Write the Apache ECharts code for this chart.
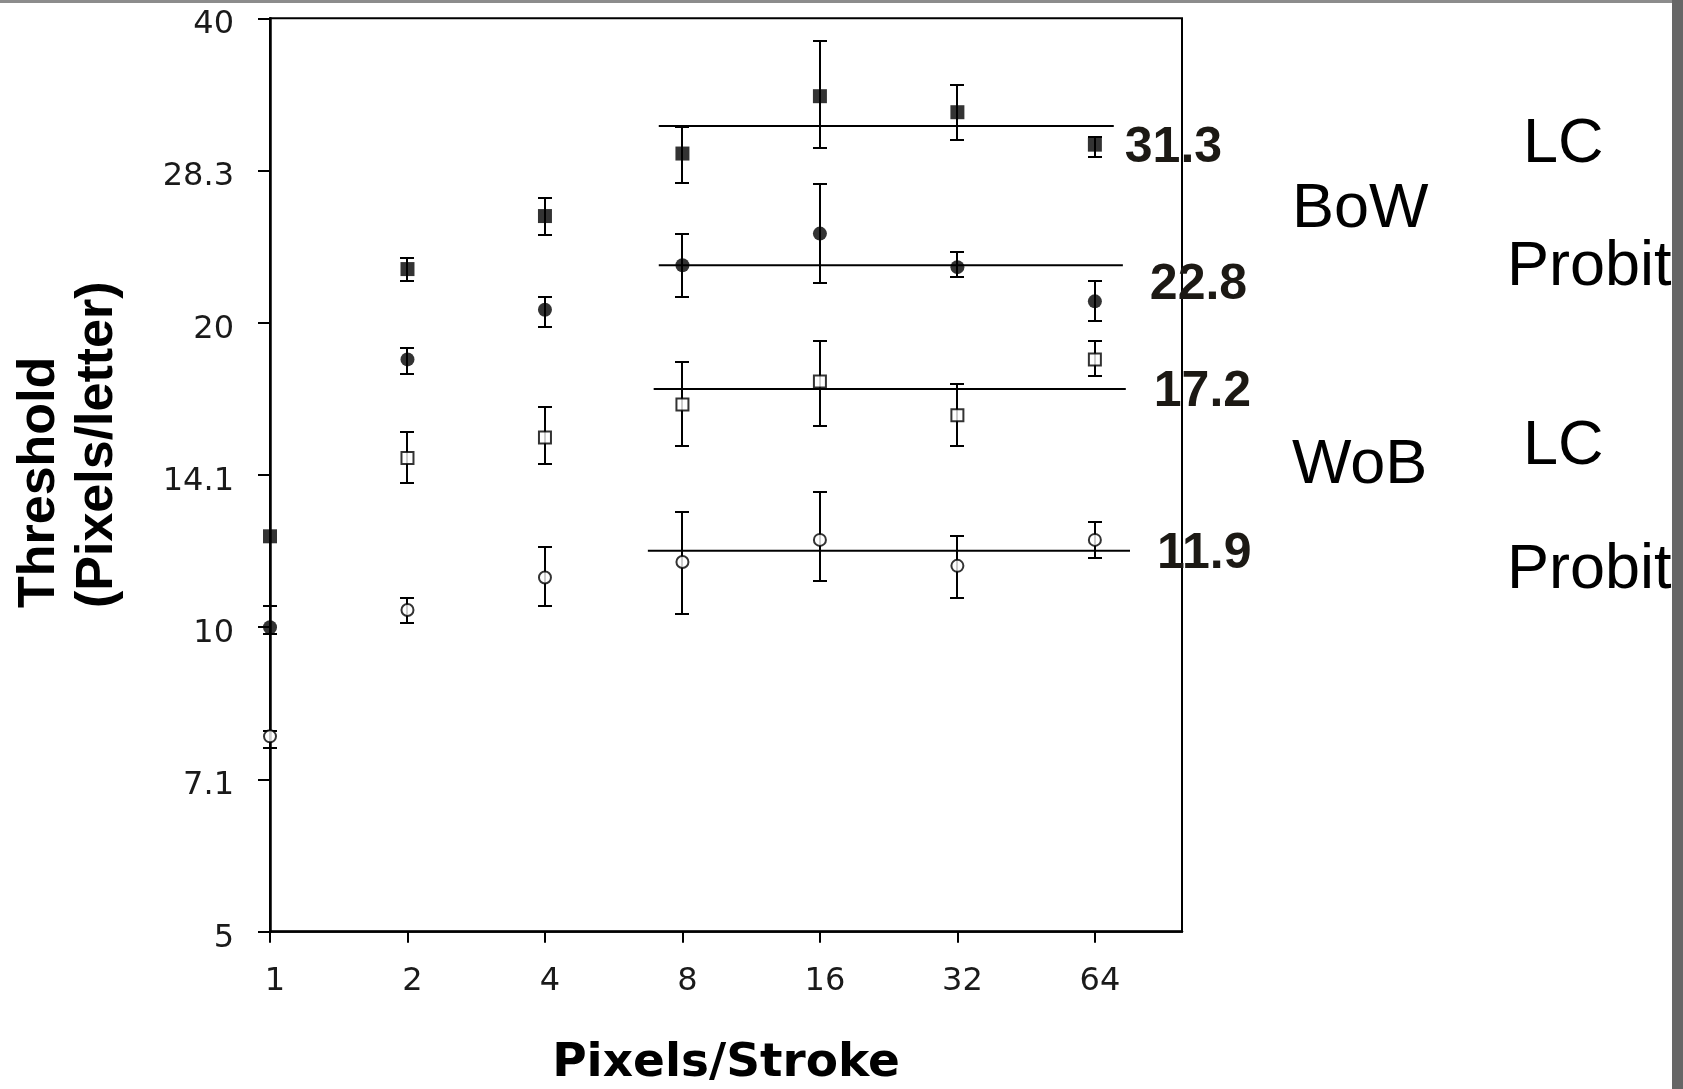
<!DOCTYPE html>
<html>
<head>
<meta charset="utf-8">
<title>Threshold vs Pixels/Stroke</title>
<script src="https://cdn.jsdelivr.net/npm/echarts@6/dist/echarts.min.js"></script>
<style>
  html, body { margin: 0; padding: 0; background: #fff; }
  #chart { width: 1683px; height: 1089px; }
</style>
</head>
<body>
<div id="chart"></div>
<script>
// Stroke widths (x) and tick values
const strokeWidths = [1, 2, 4, 8, 16, 32, 64];
const xTickValues = [1, 2, 4, 8, 16, 32, 64];
const yTickValues = [5, 7.071, 10, 14.142, 20, 28.284, 40];

// Black-on-white, letter-contrast fit (filled squares)
const bowLC      = [12.3, 22.6, 25.5, 29.4, 33.5, 32.3, 30.0];
const bowLCLow   = [null, 22.0, 24.4, 27.5, 29.8, 30.3, 29.2];
const bowLCHigh  = [null, 23.2, 26.6, 31.2, 38.0, 34.4, 30.5];

// Black-on-white, probit fit (filled circles)
const bowProbit      = [10.0, 18.4, 20.6, 22.8, 24.5, 22.7, 21.0];
const bowProbitLow   = [9.85, 17.8, 19.8, 21.2, 21.9, 22.2, 20.1];
const bowProbitHigh  = [10.5, 18.9, 21.2, 24.5, 27.4, 23.5, 22.0];

// White-on-black, letter-contrast fit (open squares)
const wobLC      = [null, 14.7, 15.4, 16.6, 17.5, 16.2, 18.4];
const wobLCLow   = [null, 13.9, 14.5, 15.1, 15.8, 15.1, 17.7];
const wobLCHigh  = [null, 15.6, 16.5, 18.3, 19.2, 17.4, 19.2];

// White-on-black, probit fit (open circles)
const wobProbit      = [7.8, 10.4, 11.2, 11.6, 12.2, 11.5, 12.2];
const wobProbitLow   = [7.6, 10.1, 10.5, 10.3, 11.1, 10.7, 11.7];
const wobProbitHigh  = [7.9, 10.7, 12.0, 13.0, 13.6, 12.3, 12.7];

// Asymptotic threshold levels and the stroke range each is drawn over
const refLevels = [31.3, 22.8, 17.2, 11.9];
const refFrom   = [7.1, 7.1, 6.92, 6.72];
const refTo     = [70.4, 73.7, 74.8, 76.4];

// Label placement for the level values (style only)
const refLabelGap = [11, 27, 28, 27];
const refLabelDy  = [22, 20, 3, 3];

const INK = '#000';

function pairs(values) {
  const out = [];
  strokeWidths.forEach((x, i) => { if (values[i] != null) out.push([x, values[i]]); });
  return out;
}

function errorBars(name, lows, highs) {
  const data = [];
  strokeWidths.forEach((x, i) => {
    if (lows[i] != null && highs[i] != null) data.push([x, lows[i], highs[i]]);
  });
  return {
    type: 'custom',
    name: name,
    data: data,
    z: 3,
    silent: true,
    encode: { x: 0, y: [1, 2] },
    renderItem: function (params, api) {
      const x = api.value(0);
      const lo = api.coord([x, api.value(1)]);
      const hi = api.coord([x, api.value(2)]);
      const cx = Math.round(lo[0]);
      const y1 = Math.round(lo[1]);
      const y2 = Math.round(hi[1]);
      const w = 7;
      const style = { stroke: INK, lineWidth: 2, fill: null };
      return {
        type: 'group',
        children: [
          { type: 'line', shape: { x1: cx, y1: y1, x2: cx, y2: y2 }, style: style },
          { type: 'line', shape: { x1: cx - w, y1: y1, x2: cx + w, y2: y1 }, style: style },
          { type: 'line', shape: { x1: cx - w, y1: y2, x2: cx + w, y2: y2 }, style: style }
        ]
      };
    }
  };
}

function markers(name, values, symbol, filled) {
  return {
    type: 'scatter',
    name: name,
    data: pairs(values),
    symbol: symbol,
    symbolSize: filled ? 14 : 12,
    z: 5,
    silent: true,
    itemStyle: filled
      ? { color: INK, borderWidth: 0 }
      : { color: '#fff', borderColor: INK, borderWidth: 2 }
  };
}

function levelLine(i) {
  return {
    type: 'line',
    name: 'level ' + refLevels[i],
    data: [[refFrom[i], refLevels[i]], [refTo[i], refLevels[i]]],
    symbol: 'none',
    z: 2,
    silent: true,
    animation: false,
    lineStyle: { color: INK, width: 2 },
    endLabel: {
      show: true,
      distance: refLabelGap[i],
      offset: [0, refLabelDy[i]],
      formatter: function (p) { return p.value[1].toFixed(1); },
      fontFamily: 'Liberation Sans',
      fontWeight: 'bold',
      fontSize: 50,
      color: '#1c1914'
    }
  };
}

function tickLabel(v) {
  const r = Math.round(v);
  return Math.abs(v - r) < 1e-6 ? String(r) : v.toFixed(1);
}

const sideText = { fontFamily: 'Liberation Sans', fontSize: 63, fill: '#000', verticalAlign: 'middle' };

const option = {
  animation: false,
  backgroundColor: '#fff',
  grid: {
    left: 270, right: 501, top: 18.3, bottom: 157.3,
    containLabel: false,
    outerBoundsMode: 'none',
    show: true, borderColor: INK, borderWidth: 2, backgroundColor: 'transparent'
  },
  xAxis: {
    type: 'log',
    logBase: 2,
    min: 1,
    max: 99.3,
    axisLine: { show: true, onZero: false, lineStyle: { color: INK, width: 2.5 } },
    axisTick: { show: true, length: 11, customValues: xTickValues, lineStyle: { color: INK, width: 2 } },
    minorTick: { show: false },
    splitLine: { show: false },
    axisLabel: {
      customValues: xTickValues,
      formatter: tickLabel,
      fontFamily: 'DejaVu Sans', fontSize: 32, color: '#1a1a1a',
      margin: 34, padding: [0, 0, 0, 10]
    },
    name: 'Pixels/Stroke',
    nameLocation: 'middle',
    nameGap: 109,
    nameTextStyle: { fontFamily: 'DejaVu Sans', fontWeight: 'bold', fontSize: 47, color: INK }
  },
  yAxis: {
    type: 'log',
    logBase: 2,
    min: 5,
    max: 40,
    axisLine: { show: true, onZero: false, lineStyle: { color: INK, width: 2.5 } },
    axisTick: { show: true, length: 12, customValues: yTickValues, lineStyle: { color: INK, width: 2 } },
    minorTick: { show: false },
    splitLine: { show: false },
    axisLabel: {
      customValues: yTickValues,
      formatter: tickLabel,
      fontFamily: 'DejaVu Sans', fontSize: 32, color: '#1a1a1a',
      margin: 36, verticalAlign: 'top', lineHeight: 13
    }
  },
  graphic: [
    { type: 'rect', left: 0, top: 0, shape: { width: 1683, height: 3 }, style: { fill: '#8c8c8c' }, silent: true },
    { type: 'rect', left: 1672, top: 0, shape: { width: 11, height: 1089 }, style: { fill: '#666' }, silent: true },
    {
      type: 'text', x: 11, y: 608, rotation: Math.PI / 2,
      style: {
        text: 'Threshold\n(Pixels/letter)',
        fontFamily: 'Liberation Sans', fontWeight: 'bold', fontSize: 52, lineHeight: 58,
        fill: INK, align: 'left', verticalAlign: 'top'
      }
    },
    { type: 'text', x: 1523, y: 145, style: Object.assign({ text: 'LC' }, sideText) },
    { type: 'text', x: 1292, y: 210, style: Object.assign({ text: 'BoW' }, sideText) },
    { type: 'text', x: 1507, y: 268, style: Object.assign({ text: 'Probit' }, sideText) },
    { type: 'text', x: 1523, y: 447, style: Object.assign({ text: 'LC' }, sideText) },
    { type: 'text', x: 1292, y: 466, style: Object.assign({ text: 'WoB' }, sideText) },
    { type: 'text', x: 1507, y: 571, style: Object.assign({ text: 'Probit' }, sideText) }
  ],
  series: [
    levelLine(0), levelLine(1), levelLine(2), levelLine(3),
    errorBars('BoW LC error', bowLCLow, bowLCHigh),
    errorBars('BoW Probit error', bowProbitLow, bowProbitHigh),
    errorBars('WoB LC error', wobLCLow, wobLCHigh),
    errorBars('WoB Probit error', wobProbitLow, wobProbitHigh),
    markers('BoW LC', bowLC, 'rect', true),
    markers('BoW Probit', bowProbit, 'circle', true),
    markers('WoB LC', wobLC, 'rect', false),
    markers('WoB Probit', wobProbit, 'circle', false)
  ]
};

const chart = echarts.init(document.getElementById('chart'));
chart.setOption(option);
</script>
</body>
</html>
